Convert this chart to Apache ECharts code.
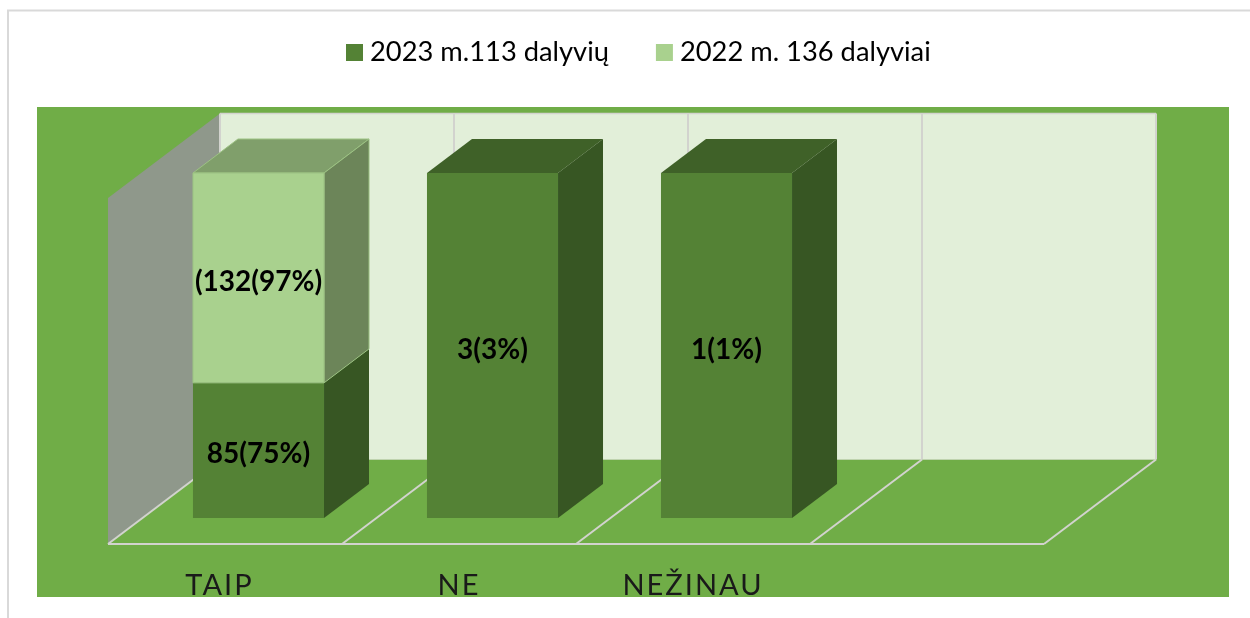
<!DOCTYPE html>
<html><head><meta charset="utf-8">
<style>html,body{margin:0;padding:0;background:#fff}#c{width:1250px;height:618px}</style>
<script src="https://cdn.jsdelivr.net/npm/echarts@6/dist/echarts.min.js"></script>
</head><body><div id="c"></div>
<script>
const categories = ['TAIP', 'NE', 'NEŽINAU', ''];
const name2023 = '2023 m.113 dalyvių';
const name2022 = '2022 m. 136 dalyviai';
const values2023 = [85, 3, 1, 0];
const values2022 = [132, 0, 0, 0];
const labels2023 = ['85(75%)', '3(3%)', '1(1%)', ''];
const labels2022 = ['(132(97%)', '', '', ''];

const FONT = 'Lato, sans-serif';

// The reference's axis labels are letter-spaced; ECharts has no option for it.
const origFill = CanvasRenderingContext2D.prototype.fillText;
CanvasRenderingContext2D.prototype.fillText = function (t, x, y, m) {
  if (t && categories.indexOf(t) >= 0) {
    this.save();
    this.letterSpacing = '2px';
    origFill.call(this, t, x, y);
    this.restore();
    return;
  }
  return m === undefined ? origFill.call(this, t, x, y) : origFill.call(this, t, x, y, m);
};

const FULL = [112, -84.5], BAR_OFF = [33.5, -26], BAR_D = [45, -34];
const poly = (pts, fill, stroke, lw) => ({
  type: 'polygon', shape: { points: pts },
  style: { fill: fill, stroke: stroke || null, lineWidth: lw || 0 }
});
const shift = (p, d) => [p[0] + d[0], p[1] + d[1]];
const seg = (a, b, color, w) => ({ type: 'line', shape: { x1: a[0], y1: a[1], x2: b[0], y2: b[1] }, style: { stroke: color, lineWidth: w } });

function renderChrome(params, api) {
  const i = api.value(0), band = api.size([1, 0])[0];
  const c0 = api.coord([i, 0]), c1 = api.coord([i, 100]);
  const xl = c0[0] - band / 2, xr = c0[0] + band / 2, y0 = c0[1], y1 = c1[1] - 1;
  const LINE = '#D2D3CE';
  const kids = [];
  const bl = shift([xl, y0], FULL), br = shift([xr, y0], FULL), tl = shift([xl, y1], FULL), tr = shift([xr, y1], FULL);
  kids.push(poly([tl, tr, br, bl], '#E2EFD9'));
  if (i === 0) {
    kids.push(poly([[xl, y1], tl, bl, [xl, y0]], '#8F988B'));
    kids.push(seg([xl, y0], bl, LINE, 2));
  }
  kids.push(seg(tl, bl, LINE, 2));
  kids.push(seg(tl, tr, LINE, 1.5));
  kids.push(seg(tr, br, LINE, 2));
  kids.push(seg(bl, br, '#BFD3AE', 1));
  kids.push(seg([xr, y0], br, LINE, 2));
  kids.push(seg([xl, y0], [xr, y0], LINE, 2));
  return { type: 'group', children: kids };
}

function barRenderer(shades, labels) {
  return function (params, api) {
    const i = api.value(0), a = api.value(1), b = api.value(2);
    if (b <= a) return null;
    const band = api.size([1, 0])[0], w = band * 0.56;
    const s = shift(api.coord([i, a]), BAR_OFF), e = shift(api.coord([i, b]), BAR_OFF);
    const xl = s[0] - w / 2, xr = s[0] + w / 2;
    const fl = [xl, e[1]], fr = [xr, e[1]], br = [xr, s[1]], bl = [xl, s[1]];
    const kids = [
      poly([fl, shift(fl, BAR_D), shift(fr, BAR_D), fr], shades[1], shades[3], shades[3] ? 1 : 0),
      poly([fr, shift(fr, BAR_D), shift(br, BAR_D), br], shades[2], shades[3], shades[3] ? 1 : 0),
      poly([fl, fr, br, bl], shades[0], shades[3], shades[3] ? 1 : 0)
    ];
    if (labels[i]) kids.push({
      type: 'text',
      style: { text: labels[i], x: s[0], y: (s[1] + e[1]) / 2 + 4, align: 'center', verticalAlign: 'middle',
        font: 'bold 28px ' + FONT, fill: '#000' }
    });
    return { type: 'group', children: kids };
  };
}

const totals = categories.map((_, i) => values2023[i] + values2022[i]);
const share = (v, i) => totals[i] ? v / totals[i] * 100 : 0;
const data2023 = categories.map((_, i) => [i, 0, share(values2023[i], i)]);
const data2022 = categories.map((_, i) => [i, share(values2023[i], i), share(values2023[i], i) + share(values2022[i], i)]);

const chart = echarts.init(document.getElementById('c'), null, { renderer: 'canvas' });
chart.setOption({
  animation: false,
  backgroundColor: '#fff',
  textStyle: { fontFamily: FONT },
  grid: { left: 108, width: 936, top: 199, height: 345, containLabel: false },
  legend: {
    left: 346, top: 39, padding: 0, itemWidth: 17, itemHeight: 17, itemGap: 47,
    icon: 'rect', data: [name2023, name2022], selectedMode: false,
    textStyle: { fontSize: 27.3, color: '#000', fontFamily: FONT, padding: [0, 0, 0, 2] }
  },
  xAxis: {
    type: 'category', data: categories,
    axisLine: { show: false }, axisTick: { show: false }, splitLine: { show: false },
    axisLabel: { fontSize: 29, color: '#1a1a1a', margin: 27, fontFamily: FONT, interval: 0,
      formatter: (v, i) => i === 0 ? '{first|' + v + '}' : v,
      rich: { first: { fontSize: 29, color: '#1a1a1a', fontFamily: FONT, padding: [0, 11, 0, 0] } } }
  },
  yAxis: { type: 'value', min: 0, max: 100, show: false },
  graphic: [
    { type: 'rect', z: -10, silent: true, shape: { x: 8, y: 10.5, width: 1400, height: 800 }, style: { fill: '#fff', stroke: '#D9D9D9', lineWidth: 2 } },
    { type: 'rect', z: -9, silent: true, shape: { x: 37, y: 107, width: 1192, height: 490 }, style: { fill: '#70AD47' } },
    { type: 'rect', z: 50, silent: true, shape: { x: 37, y: 597, width: 1192, height: 21 }, style: { fill: '#fff' } }
  ],
  series: [
    { type: 'custom', name: 'chrome', z: 1, silent: true, renderItem: renderChrome, data: categories.map((_, i) => [i]), encode: { x: 0 } },
    { type: 'custom', name: name2023, z: 2, itemStyle: { color: '#548235' },
      renderItem: barRenderer(['#548235', '#3F6128', '#375623', null], labels2023), data: data2023, encode: { x: 0, y: [1, 2] } },
    { type: 'custom', name: name2022, z: 3, itemStyle: { color: '#A9D18E' },
      renderItem: barRenderer(['#A9D18E', '#809F6B', '#6C8559', '#9CC283'], labels2022), data: data2022, encode: { x: 0, y: [1, 2] } }
  ]
});
</script></body></html>
